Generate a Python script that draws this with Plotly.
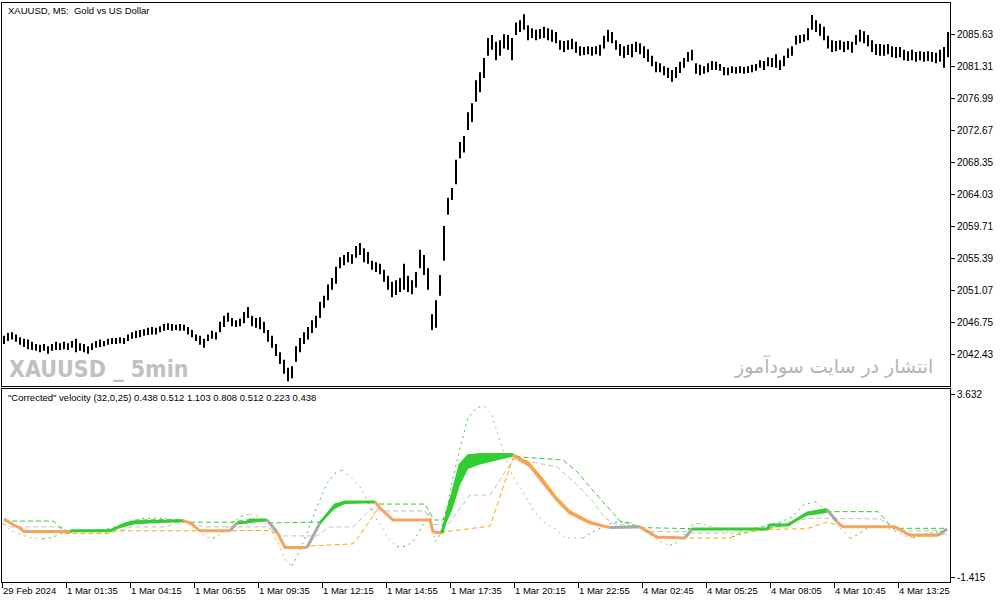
import plotly.graph_objects as go

# ---- price: high / low of every second M5 bar ----
bar_high = [
    2045.0, 2045.4, 2045.5, 2045.2, 2044.8, 2044.6, 2044.5, 2044.2, 2043.9, 2043.8,
    2043.9, 2043.6, 2043.9, 2044.2, 2044.0, 2044.2, 2044.0, 2044.3, 2044.6, 2044.0,
    2043.9, 2043.6, 2044.0, 2044.3, 2044.5, 2044.3, 2044.6, 2044.7, 2044.7, 2044.8,
    2044.7, 2045.2, 2045.5, 2045.7, 2045.8, 2045.9, 2046.1, 2046.2, 2046.1, 2046.3,
    2046.6, 2046.7, 2046.6, 2046.5, 2046.6, 2046.5, 2046.2, 2045.8, 2045.2, 2045.0,
    2044.6, 2045.2, 2045.7, 2045.5, 2046.9, 2047.7, 2048.1, 2047.4, 2047.1, 2047.3,
    2048.2, 2048.9, 2047.7, 2047.4, 2047.5, 2046.9, 2045.8, 2045.0, 2043.9, 2042.8,
    2041.8, 2040.7, 2040.9, 2043.6, 2044.7, 2045.5, 2046.2, 2047.1, 2047.7, 2049.6,
    2050.4, 2051.9, 2052.8, 2054.3, 2055.6, 2055.9, 2056.3, 2056.0, 2057.1, 2057.5,
    2056.8, 2056.3, 2055.1, 2054.9, 2054.7, 2053.9, 2053.1, 2052.3, 2052.5, 2052.8,
    2054.7, 2053.1, 2052.5, 2053.6, 2056.6, 2055.9, 2054.1, 2047.9, 2049.8, 2053.2,
    2059.8, 2063.6, 2064.9, 2068.7, 2071.1, 2071.9, 2075.1, 2076.3, 2079.4, 2080.5,
    2082.4, 2085.1, 2085.5, 2084.6, 2084.8, 2085.6, 2085.5, 2085.1, 2087.2, 2087.5,
    2088.3, 2086.8, 2086.4, 2086.2, 2086.3, 2086.6, 2086.4, 2086.2, 2085.9, 2084.8,
    2084.7, 2084.8, 2085.0, 2084.6, 2084.0, 2083.9, 2084.0, 2083.9, 2084.0, 2084.2,
    2085.4, 2086.2, 2085.9, 2084.8, 2084.3, 2084.0, 2084.2, 2084.3, 2084.6, 2084.4,
    2084.0, 2083.6, 2082.7, 2081.9, 2081.7, 2081.3, 2081.1, 2080.8, 2081.2, 2081.9,
    2082.4, 2083.2, 2083.5, 2081.7, 2081.5, 2081.3, 2081.7, 2082.0, 2081.9, 2081.6,
    2081.2, 2081.1, 2081.3, 2081.2, 2081.3, 2081.2, 2081.3, 2081.5, 2081.6, 2082.1,
    2082.0, 2082.5, 2082.4, 2082.9, 2082.1, 2082.7, 2083.7, 2084.0, 2085.4, 2085.5,
    2085.6, 2086.4, 2088.2, 2087.5, 2087.0, 2086.6, 2085.4, 2084.8, 2084.7, 2084.8,
    2084.6, 2084.7, 2084.6, 2085.5, 2086.2, 2086.0, 2085.5, 2084.8, 2084.3, 2084.3,
    2084.2, 2084.3, 2084.0, 2083.9, 2083.9, 2083.5, 2083.3, 2083.5, 2083.2, 2083.3,
    2083.2, 2083.3, 2083.2, 2083.1, 2083.5, 2083.9, 2085.9,
]
bar_low = [
    2043.9, 2044.3, 2044.5, 2044.2, 2043.8, 2043.5, 2043.2, 2043.1, 2043.0, 2042.8,
    2043.0, 2042.6, 2043.0, 2043.1, 2043.1, 2043.2, 2043.1, 2043.4, 2042.8, 2043.0,
    2042.8, 2042.6, 2043.1, 2043.4, 2043.5, 2043.6, 2043.8, 2043.9, 2043.9, 2044.0,
    2043.9, 2044.3, 2044.6, 2044.7, 2044.8, 2045.0, 2045.1, 2045.2, 2045.2, 2045.5,
    2045.7, 2045.8, 2045.7, 2045.8, 2045.7, 2045.7, 2045.2, 2044.8, 2044.3, 2043.8,
    2043.4, 2044.3, 2044.6, 2044.5, 2045.5, 2046.2, 2046.9, 2046.3, 2046.2, 2046.3,
    2046.7, 2047.4, 2046.3, 2046.1, 2045.9, 2045.4, 2044.2, 2043.4, 2042.3, 2041.2,
    2039.9, 2038.9, 2039.3, 2041.5, 2042.8, 2043.9, 2044.5, 2045.4, 2046.1, 2047.4,
    2048.8, 2049.8, 2051.2, 2052.0, 2054.1, 2054.5, 2054.9, 2054.7, 2055.5, 2055.9,
    2054.9, 2054.7, 2053.9, 2053.6, 2053.3, 2052.3, 2051.2, 2050.2, 2050.5, 2050.9,
    2051.2, 2050.9, 2050.6, 2051.5, 2054.1, 2053.2, 2051.2, 2045.8, 2046.1, 2050.4,
    2055.1, 2061.3, 2063.3, 2065.4, 2068.9, 2069.7, 2072.7, 2073.8, 2076.5, 2077.8,
    2079.7, 2082.7, 2083.5, 2082.1, 2082.7, 2083.7, 2083.5, 2082.1, 2085.5, 2085.9,
    2086.2, 2084.8, 2085.1, 2084.8, 2085.0, 2085.1, 2084.8, 2084.6, 2084.4, 2083.5,
    2083.2, 2083.5, 2083.6, 2083.1, 2082.7, 2082.8, 2082.9, 2082.7, 2082.9, 2082.7,
    2083.7, 2084.6, 2084.4, 2083.5, 2082.7, 2082.4, 2082.8, 2082.5, 2083.2, 2082.9,
    2082.4, 2081.9, 2081.3, 2080.5, 2080.5, 2080.1, 2079.7, 2079.2, 2079.7, 2080.4,
    2081.1, 2081.9, 2082.1, 2080.3, 2080.1, 2080.3, 2080.5, 2080.8, 2080.8, 2080.7,
    2080.1, 2080.1, 2080.4, 2080.3, 2080.4, 2080.3, 2080.4, 2080.5, 2080.7, 2081.1,
    2080.8, 2081.3, 2081.2, 2081.1, 2080.8, 2081.3, 2082.4, 2082.7, 2084.2, 2084.4,
    2084.6, 2084.8, 2086.2, 2085.9, 2085.4, 2084.8, 2083.7, 2083.2, 2083.3, 2083.5,
    2083.2, 2083.5, 2083.1, 2084.2, 2084.6, 2084.4, 2084.0, 2083.2, 2082.8, 2082.7,
    2082.7, 2082.9, 2082.5, 2082.4, 2082.5, 2082.1, 2082.0, 2082.1, 2081.9, 2082.1,
    2081.9, 2082.0, 2081.9, 2081.7, 2081.9, 2081.1, 2082.5,
]

price_ticks = [2042.43, 2046.75, 2051.07, 2055.39, 2059.71, 2064.03,
               2068.35, 2072.67, 2076.99, 2081.31, 2085.63]
time_labels = ["29 Feb 2024", "1 Mar 01:35", "1 Mar 04:15", "1 Mar 06:55",
               "1 Mar 09:35", "1 Mar 12:15", "1 Mar 14:55", "1 Mar 17:35",
               "1 Mar 20:15", "1 Mar 22:55", "4 Mar 02:45", "4 Mar 05:25",
               "4 Mar 08:05", "4 Mar 10:45", "4 Mar 13:25"]

# ---- "Corrected" velocity, read at turning points (x = bar number) ----
vel_x = [0.5, 5.5, 10.5, 15.5, 20.5, 24, 27.5, 32.5, 39, 49,
         54, 59, 65.5, 70.5, 81.5, 85.5, 92.5, 97.5, 101.5, 105.5,
         107.5, 110.5, 114, 119, 124, 126.5, 130.5, 135, 138, 140.5,
         143, 145, 149, 152.5, 157.5, 162.5, 166.5, 170, 174, 179,
         184, 187.5, 192.5, 197.5, 201.5, 205.5, 209, 214, 216.5, 219,
         222.5, 225, 229, 233, 237.5, 241, 245, 247.5, 250, 253,
         255.5, 260.5, 265.5, 270.5, 277.5, 281.5, 290.5, 295.5, 302.5, 305.5,
         314, 319, 324, 330.5, 334, 335.5, 339, 342.5, 345, 348,
         355.5, 362.5, 365.5, 371.5, 384, 389, 395.5, 400.5, 407, 412.5,
         417.5, 420.5, 424, 427.5, 432.5, 437.5, 445.5, 452.5, 455.5, 462.5,
         469, 472.5]
vel_y = [0.05, -0.16, -0.27, -0.34, -0.36, -0.34, -0.27, -0.16, -0.14, -0.13,
         -0.07, 0.02, 0.11, 0.21, 0.21, 0.16, 0.07, -0.07, -0.31, -0.34,
         -0.32, -0.16, 0.02, 0.25, 0.32, 0.31, 0.16, -0.16, -0.48, -0.81,
         -1.03, -1.11, -0.67, -0.20, 0.53, 1.17, 1.45, 1.54, 1.36, 1.08,
         0.53, 0.16, -0.30, -0.58, -0.57, -0.44, -0.12, 0.38, -0.44, -0.25,
         0.49, 1.21, 2.15, 2.98, 3.27, 3.30, 3.06, 2.60, 2.15, 1.68,
         1.36, 0.94, 0.44, 0.11, -0.12, -0.33, -0.34, -0.16, 0.02, 0.10,
         0.10, -0.06, -0.25, -0.48, -0.53, -0.53, -0.39, -0.16, 0.02, 0.07,
         -0.03, -0.16, -0.30, -0.20, 0.05, 0.10, 0.25, 0.57, 0.67, 0.39,
         0.07, -0.16, -0.35, -0.25, -0.07, 0.02, -0.12, -0.30, -0.34, -0.21,
         -0.16, -0.26]

corr_x = [1, 5, 9, 11, 34, 35, 54, 61.5, 66.5, 90.5,
          94, 99, 114, 117.5, 122.5, 124, 132.5, 137.5, 141.5, 152.5,
          159, 166.5, 171.5, 186.5, 189, 195.5, 214, 215.5, 220, 225,
          229, 233, 239, 255.5, 259, 264, 270.5, 277.5, 284, 294,
          304, 319, 327.5, 341.5, 345, 382.5, 384, 393, 402.5, 412.5,
          417.5, 420.5, 446.5, 454, 468, 472.5]
corr_y = [0.19, 0.05, -0.06, -0.16, -0.16, -0.14, -0.14, 0.05, 0.11, 0.14,
          0.08, -0.14, -0.14, 0.08, 0.10, 0.16, 0.16, -0.17, -0.60, -0.60,
          0.08, 0.57, 0.66, 0.66, 0.49, 0.16, 0.16, -0.17, -0.20, 0.85,
          1.68, 1.93, 1.97, 1.97, 1.82, 1.65, 1.21, 0.71, 0.35, 0.08,
          -0.05, -0.03, -0.31, -0.34, -0.09, -0.09, 0.02, 0.02, 0.35, 0.45,
          0.11, -0.03, -0.03, -0.26, -0.26, -0.09]
corr_sig = [0.19, 0.05, -0.06, -0.16, -0.21, -0.14, -0.14, -0.02, 0.04, 0.12,
            0.08, -0.14, -0.14, 0.08, 0.06, 0.08, 0.13, -0.17, -0.64, -0.64,
            0.08, 0.47, 0.60, 0.64, 0.49, 0.16, 0.16, -0.17, -0.20, 0.42,
            1.13, 1.57, 1.69, 1.91, 1.90, 1.74, 1.31, 0.80, 0.43, 0.14,
            -0.02, -0.03, -0.31, -0.37, -0.09, -0.09, 0.02, 0.02, 0.28, 0.35,
            0.11, -0.03, -0.03, -0.26, -0.26, -0.09]
# colour buffer: 1 up, -1 down, 0 neutral (for the stretch ending at each point)
corr_trend = [-1, -1, -1, -1, -1, 1, 1, 1, 1, 1,
              -1, -1, -1, 0, 1, 1, 1, 0, -1, -1,
              0, 1, 1, 1, -1, -1, -1, -1, -1, 1,
              1, 1, 1, 1, -1, -1, -1, -1, -1, -1,
              -1, 0, -1, -1, 0, 1, 1, 1, 1, 1,
              0, -1, -1, -1, -1, 0]

upper_x = [1, 25.5, 29, 32.5, 54, 57.5, 65.5, 90.5, 92.5, 114,
           122.5, 132.5, 134, 157.5, 159, 166.5, 171.5, 186.5, 189, 211.5,
           214, 216, 220.5, 225, 229, 233, 255.5, 259, 280.5, 287.5,
           297.5, 305.5, 309, 320.5, 344, 382.5, 393, 402.5, 412.5, 414,
           438, 444, 445.5, 472.5]
upper_y = [0.13, 0.13, -0.03, -0.13, -0.12, -0.07, 0.16, 0.17, 0.10, 0.10,
           0.16, 0.17, 0.08, 0.08, 0.10, 0.60, 0.67, 0.67, 0.60, 0.60,
           0.35, 0.16, 0.16, 0.88, 1.71, 1.96, 1.97, 1.90, 1.82, 1.49,
           0.85, 0.34, 0.13, -0.05, -0.08, -0.08, 0.03, 0.37, 0.46, 0.39,
           0.39, 0.02, -0.07, -0.07]

mid_x = [0, 4, 27.5, 32.5, 52.5, 55, 61.5, 64, 82.5, 86.5,
         92.5, 101.5, 132.5, 140, 157.5, 164, 175.5, 184, 187.5, 191.5,
         211.5, 215.5, 222.5, 234, 244, 254, 256.5, 264, 277.5, 287.5,
         295.5, 301.5, 306.5, 319, 321.5, 342.5, 345.5, 365.5, 371.5, 384,
         394, 404, 439, 444, 446.5, 472.5]
mid_y = [0.07, -0.03, -0.03, -0.14, -0.14, -0.12, -0.12, -0.03, -0.03, 0.09,
         0.09, -0.03, -0.03, -0.28, -0.28, -0.03, -0.03, 0.44, 0.48, 0.41,
         0.41, 0.04, 0.00, 0.85, 0.85, 1.68, 1.90, 1.77, 1.63, 1.13,
         0.67, 0.22, 0.05, -0.03, -0.16, -0.16, -0.20, -0.20, -0.12, 0.02,
         0.11, 0.21, 0.19, 0.02, -0.14, -0.14]

lower_x = [1, 5, 11, 29, 32.5, 54, 56.5, 99, 132.5, 137.5,
           141.5, 152.5, 154, 175.5, 179, 187.5, 190, 195.5, 214, 215.5,
           220.5, 244, 255.5, 259, 264, 270.5, 277.5, 284, 294, 304,
           319, 327.5, 364, 369, 384, 402.5, 412.5, 420.5, 446.5, 454,
           472.5]
lower_y = [0.17, 0.04, -0.17, -0.17, -0.21, -0.21, -0.14, -0.14, -0.13, -0.20,
           -0.60, -0.60, -0.56, -0.50, -0.26, 0.44, 0.44, 0.16, 0.15, -0.17,
           -0.17, -0.01, 1.87, 1.80, 1.64, 1.20, 0.70, 0.34, 0.06, -0.06,
           -0.06, -0.34, -0.34, -0.20, -0.10, -0.08, 0.10, -0.02, -0.02, -0.23,
           -0.23]

GREEN = "#32CD32"
SANDY = "#F4A460"
ORANGE = "#FFA500"
DGREY = "#A9A9A9"
SILVER = "#C0C0C0"


def runs(keys):
    # split a polyline into stretches that share the same key
    # keys[j] belongs to the stretch from point j-1 to point j
    out = []
    start, cur = 0, keys[1]
    for j in range(2, len(keys)):
        if keys[j] != cur:
            out.append((cur, start, j - 1))
            start, cur = j - 1, keys[j]
    out.append((cur, start, len(keys) - 1))
    return out


fig = go.Figure()

# price bars
bx, by = [], []
for k in range(len(bar_high)):
    bx += [1 + 2 * k, 1 + 2 * k, None]
    by += [bar_low[k], bar_high[k], None]
fig.add_trace(go.Scatter(x=bx, y=by, mode="lines", line=dict(color="black", width=2),
                         xaxis="x", yaxis="y", hoverinfo="skip"))

# level lines
for xs, ys, col in [(mid_x, mid_y, SILVER), (lower_x, lower_y, ORANGE), (upper_x, upper_y, GREEN)]:
    fig.add_trace(go.Scatter(x=xs, y=ys, mode="lines",
                             line=dict(color=col, width=1, dash="5px,3px"),
                             xaxis="x2", yaxis="y2"))

# raw velocity, green while rising, sandy while falling
vkeys = [1] + [1 if vel_y[j] >= vel_y[j - 1] else -1 for j in range(1, len(vel_y))]
for key, a, b in runs(vkeys):
    fig.add_trace(go.Scatter(x=vel_x[a:b + 1], y=vel_y[a:b + 1], mode="lines",
                             line=dict(color=GREEN if key > 0 else SANDY, width=1, dash="2px,4px"),
                             xaxis="x2", yaxis="y2"))

# filling between corrected velocity and its signal
for key, a, b in runs(corr_trend):
    if key == 0:
        continue
    fig.add_trace(go.Scatter(x=corr_x[a:b + 1], y=corr_sig[a:b + 1], mode="lines",
                             line=dict(width=0, color=GREEN), xaxis="x2", yaxis="y2"))
    fig.add_trace(go.Scatter(x=corr_x[a:b + 1], y=corr_y[a:b + 1], mode="lines",
                             line=dict(width=0, color=GREEN), fill="tonexty",
                             fillcolor=GREEN if key > 0 else ORANGE,
                             xaxis="x2", yaxis="y2"))

# thick corrected velocity line
line_col = {1: GREEN, -1: SANDY, 0: DGREY}
for key, a, b in runs(corr_trend):
    fig.add_trace(go.Scatter(x=corr_x[a:b + 1], y=corr_y[a:b + 1], mode="lines",
                             line=dict(color=line_col[key], width=3),
                             xaxis="x2", yaxis="y2"))

axis_common = dict(showgrid=False, zeroline=False, showline=True, mirror=True,
                   linecolor="black", linewidth=1, tickcolor="black", automargin=False)

fig.update_layout(
    width=1003, height=603,
    margin=dict(l=2, r=53, t=3, b=21),
    paper_bgcolor="white", plot_bgcolor="white",
    showlegend=False,
    font=dict(family="Liberation Sans, Arial, sans-serif", size=10, color="black"),
    xaxis=dict(anchor="y", range=[0, 474], showticklabels=False, ticks="", **axis_common),
    xaxis2=dict(anchor="y2", range=[0, 474], matches="x", tickangle=0,
                tickvals=[32 * i for i in range(len(time_labels))], ticktext=time_labels,
                tickfont=dict(size=9.5),
                ticks="outside", ticklen=5, ticklabelposition="outside right", **axis_common),
    yaxis=dict(domain=[0.3385, 1], range=[2038.25, 2089.81], side="right",
               tickvals=price_ticks, ticktext=["%.2f" % v for v in price_ticks],
               ticks="outside", ticklen=4, **axis_common),
    yaxis2=dict(domain=[0, 0.3333], range=[-1.553, 3.778], side="right",
                tickvals=[3.632, -1.415], ticktext=["3.632", "-1.415"],
                ticks="outside", ticklen=4, **axis_common),
)

fig.add_annotation(x=2, y=2088.86, xref="x", yref="y", text="XAUUSD, M5:  Gold vs US Dollar",
                   showarrow=False, xanchor="left", yanchor="middle",
                   font=dict(size=9.5, color="black"))
fig.add_annotation(x=2, y=3.53, xref="x2", yref="y2",
                   text='"Corrected" velocity (32,0,25) 0.438 0.512 1.103 0.808 0.512 0.223 0.438',
                   showarrow=False, xanchor="left", yanchor="middle",
                   font=dict(size=9.5, color="black"))
fig.add_annotation(x=2.5, y=2040.6, xref="x", yref="y", text="<b>XAUUSD _ 5min</b>",
                   showarrow=False, xanchor="left", yanchor="middle",
                   font=dict(family="DejaVu Sans Condensed, sans-serif",
                             size=23, color="#C0C0C0"))
fig.add_annotation(x=466.5, y=2041.0, xref="x", yref="y", text="انتشار در سایت سودآموز",
                   showarrow=False, xanchor="right", yanchor="middle",
                   font=dict(family="DejaVu Sans, sans-serif", size=19, color="#B4B4B4"))

# page has a default body margin; drop it so the chart sits at the window corner
fig.write_html("out.html", config={"displayModeBar": False},
               post_script="document.body.style.margin='0';")
